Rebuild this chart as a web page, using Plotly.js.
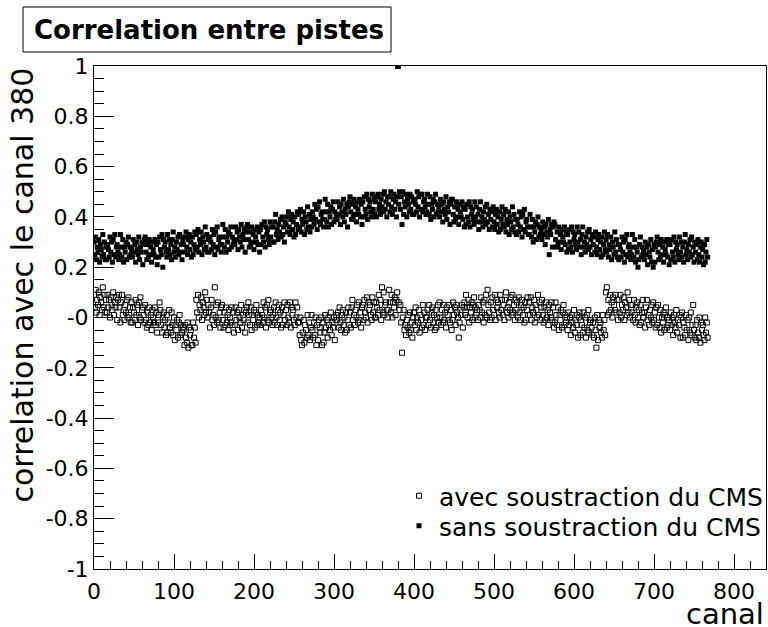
<!DOCTYPE html>
<html>
<head>
<meta charset="utf-8">
<script src="https://cdn.plot.ly/plotly-3.0.1.min.js"></script>
<style>
html,body{margin:0;padding:0;background:#fff;}
#chart{width:768px;height:627px;}
</style>
</head>
<body>
<div id="chart"></div>
<script>
// ---- data ----
const titleText = "Correlation entre pistes";
const xTitle = "canal";
const yTitle = "correlation avec le canal 380";
const nameAvec = "avec soustraction du CMS";
const nameSans = "sans soustraction du CMS";

// channel index 0..767 (6 blocks of 128)
const nCanaux = 768;
const canal = Array.from({length: nCanaux}, (_, i) => i);

const yTickVals = [-1, -0.8, -0.6, -0.4, -0.2, 0, 0.2, 0.4, 0.6, 0.8, 1];
const yTickText = ["-1", "-0.8", "-0.6", "-0.4", "-0.2", "-0", "0.2", "0.4", "0.6", "0.8", "1"];

// correlation without common-mode subtraction (filled squares)
const sansCMS = [
.30,.25,.32,.23,.28,.26,.31,.22,.29,.27,.24,.33,.25,.30,.23,.28,
.23,.29,.27,.24,.32,.26,.30,.22,.31,.25,.33,.24,.28,.29,.26,.23,
.25,.33,.28,.24,.31,.22,.28,.26,.30,.23,.29,.32,.24,.28,.25,.27,
.24,.31,.26,.29,.22,.30,.27,.25,.32,.23,.28,.26,.30,.21,.29,.31,
.32,.26,.23,.29,.24,.31,.25,.28,.22,.30,.27,.25,.31,.24,.29,.21,
.30,.24,.32,.27,.25,.33,.20,.31,.28,.30,.26,.24,.33,.27,.31,.25,
.29,.23,.31,.34,.26,.28,.24,.30,.27,.32,.25,.33,.26,.29,.23,.31,
.29,.32,.26,.34,.28,.25,.31,.33,.27,.30,.24,.32,.25,.29,.34,.27,
.33,.28,.35,.26,.31,.29,.34,.25,.32,.30,.27,.36,.28,.33,.26,.31,
.26,.32,.30,.27,.35,.29,.33,.25,.34,.28,.36,.27,.31,.32,.29,.26,
.29,.37,.32,.28,.35,.26,.32,.30,.34,.27,.33,.36,.28,.32,.29,.31,
.29,.36,.31,.34,.27,.35,.32,.30,.37,.28,.33,.31,.35,.26,.34,.36,
.37,.31,.28,.34,.29,.36,.30,.33,.27,.35,.32,.30,.36,.29,.34,.26,
.35,.29,.37,.32,.30,.38,.28,.36,.33,.35,.31,.29,.38,.32,.36,.30,
.36,.30,.38,.41,.33,.35,.31,.37,.34,.39,.32,.40,.33,.36,.30,.38,
.37,.40,.34,.42,.36,.33,.39,.41,.35,.38,.32,.40,.33,.37,.42,.35,
.41,.36,.43,.34,.39,.37,.42,.33,.40,.38,.35,.44,.36,.41,.34,.39,
.36,.42,.40,.37,.45,.39,.43,.35,.44,.38,.46,.37,.41,.42,.39,.36,
.39,.47,.42,.38,.45,.36,.42,.40,.44,.37,.43,.46,.38,.42,.39,.41,
.39,.46,.41,.44,.37,.45,.42,.40,.47,.38,.43,.41,.45,.36,.44,.46,
.48,.42,.39,.45,.40,.47,.41,.44,.38,.46,.43,.41,.47,.40,.45,.37,
.46,.40,.48,.43,.41,.49,.39,.47,.44,.46,.42,.40,.49,.43,.47,.41,
.46,.40,.48,.49,.43,.45,.41,.47,.44,.49,.42,.50,.43,.46,.40,.48,
.45,.48,.42,.50,.44,.41,.47,.49,.43,.46,.40,.48,1.0,.45,.50,.43,
.48,.37,.50,.41,.46,.44,.49,.40,.47,.45,.42,.49,.43,.48,.41,.46,
.41,.47,.45,.42,.50,.44,.48,.40,.49,.43,.49,.42,.46,.47,.44,.41,
.42,.49,.45,.41,.48,.39,.45,.43,.47,.40,.46,.49,.41,.45,.42,.44,
.40,.47,.42,.45,.38,.46,.43,.41,.48,.39,.44,.42,.46,.37,.45,.47,
.47,.41,.38,.44,.39,.46,.40,.43,.37,.45,.42,.40,.46,.39,.44,.36,
.43,.37,.45,.40,.38,.46,.36,.44,.41,.43,.39,.37,.46,.40,.44,.38,
.41,.35,.43,.46,.38,.40,.36,.42,.39,.44,.37,.45,.38,.41,.35,.43,
.39,.42,.36,.44,.38,.35,.41,.43,.37,.40,.34,.42,.35,.39,.44,.37,
.41,.36,.43,.34,.39,.37,.42,.33,.40,.38,.35,.44,.36,.41,.34,.39,
.33,.39,.37,.34,.42,.36,.40,.32,.41,.35,.43,.34,.38,.39,.36,.33,
.33,.41,.36,.32,.39,.30,.36,.34,.38,.31,.37,.40,.32,.36,.33,.35,
.31,.38,.33,.36,.29,.37,.34,.32,.39,.25,.35,.33,.37,.28,.36,.38,
.37,.31,.28,.34,.29,.36,.30,.33,.27,.35,.32,.30,.36,.29,.34,.26,
.33,.27,.35,.30,.28,.36,.26,.34,.31,.33,.29,.27,.36,.30,.34,.28,
.31,.25,.33,.36,.28,.30,.26,.32,.29,.34,.27,.35,.28,.31,.25,.33,
.29,.32,.26,.34,.28,.25,.31,.33,.27,.30,.24,.32,.25,.29,.34,.27,
.31,.26,.33,.24,.29,.27,.32,.23,.30,.28,.25,.34,.26,.31,.24,.29,
.23,.29,.27,.24,.32,.26,.30,.22,.31,.25,.33,.24,.28,.29,.26,.23,
.25,.33,.28,.24,.31,.22,.28,.26,.20,.23,.29,.32,.24,.28,.25,.27,
.23,.30,.25,.28,.21,.29,.26,.24,.31,.22,.27,.20,.29,.22,.28,.30,
.32,.26,.23,.29,.24,.31,.25,.28,.22,.30,.27,.25,.31,.24,.29,.21,
.29,.23,.31,.26,.24,.32,.22,.30,.27,.29,.25,.23,.32,.26,.30,.24,
.28,.22,.30,.33,.25,.27,.23,.29,.26,.31,.24,.32,.25,.28,.22,.30,
.26,.29,.23,.31,.25,.22,.28,.30,.24,.27,.21,.29,.22,.26,.31,.24
];

// correlation with common-mode subtraction (open squares)
const avecCMS = [
.09,.04,.11,.02,.07,.05,.10,.01,.08,.06,.03,.12,.04,.09,.02,.07,
.02,.09,.04,.07,0,.08,.05,.03,.10,.01,.06,.04,.08,-.01,.07,.09,
.04,-.02,.06,.09,.01,.03,-.01,.05,.02,.07,0,.08,.01,.04,-.02,.06,
-.02,.04,.02,-.01,.07,.01,.05,-.03,.06,0,.08,-.01,.03,.04,.01,-.02,
.05,-.01,-.04,.02,-.03,.04,-.02,.01,-.05,.03,0,-.02,.04,-.03,.02,-.06,
-.02,.01,.06,.03,-.03,-.06,0,.02,-.04,-.01,-.07,.01,-.06,-.02,.03,-.04,
-.06,.02,-.03,-.07,0,-.09,-.03,-.05,-.01,-.08,-.02,.01,-.07,-.03,-.06,-.04,
-.05,-.11,-.03,-.08,-.10,-.02,-.12,-.04,-.07,-.05,-.11,-.11,-.02,-.08,-.04,-.10,
.07,.02,.09,0,.05,.03,.08,-.01,.06,.04,.01,.10,.02,.07,0,.05,
.02,-.04,.04,.07,-.01,.01,-.03,.12,0,.05,-.02,.06,-.01,.02,-.04,.04,
.05,-.01,-.04,.02,-.03,.04,-.02,.01,-.05,.03,0,-.02,.04,-.03,.02,-.06,
-.03,.04,-.01,.02,-.05,.03,0,-.02,.05,-.04,.01,-.01,.03,-.06,.02,.04,
-.02,.06,.01,-.03,.04,-.05,.01,-.01,.03,-.04,.02,.05,-.03,.01,-.02,0,
-.03,.03,.01,-.02,.06,0,.04,-.04,.05,-.01,.07,-.02,.02,.03,0,-.03,
.01,.04,-.02,.06,0,-.03,.03,.05,-.01,.02,-.04,.04,-.03,.01,.06,-.01,
.03,-.03,.05,0,-.02,.06,-.04,.04,.01,.03,-.01,-.03,.06,0,.04,-.02,
-.02,-.07,0,-.09,-.11,-.06,-.01,-.10,-.03,-.05,-.08,.01,-.07,-.02,-.09,-.04,
.01,-.05,-.08,-.02,-.07,0,-.11,-.03,-.09,-.01,-.04,-.06,0,-.11,-.02,-.10,
-.06,.01,-.04,-.01,-.08,0,-.03,-.05,.02,-.07,-.02,-.04,0,-.09,-.01,.01,
-.01,.02,-.04,.04,-.02,-.05,.01,.03,-.03,0,-.06,.02,-.05,-.01,.04,-.03,
.02,-.04,.04,.07,-.01,.01,-.03,.03,0,.05,-.02,.06,-.01,.02,-.04,.04,
.05,-.01,.07,.02,0,.08,-.02,.06,.03,.05,.01,-.01,.08,.02,.06,0,
0,.06,.04,.01,.09,.03,.07,-.01,.12,.02,.10,.01,.05,.06,.03,0,
.03,.11,.06,.02,.09,0,.06,.04,.08,.01,.07,.10,1.0,.06,.03,.05,
-.02,-.14,0,.03,-.05,-.03,-.07,-.01,-.04,.01,-.06,.02,-.05,-.02,-.08,0,
.02,-.03,.04,-.05,0,-.02,.03,-.06,.01,-.01,-.04,.05,-.03,.02,-.05,0,
0,.03,-.03,.05,-.01,-.04,.02,.04,-.02,.01,-.05,.03,-.04,0,.05,-.02,
.06,0,-.03,.03,-.02,.05,-.01,.02,-.04,.04,.01,-.01,.05,-.02,.03,-.05,
-.01,.06,.01,.04,-.03,.05,.02,0,-.08,-.02,.03,.01,.05,-.04,.04,.06,
.01,.09,.04,0,.07,-.02,.04,.02,.06,-.01,.05,.08,0,.04,.01,.03,
-.01,.05,.03,0,.08,.02,.06,-.02,.07,.01,.09,0,.11,.05,.02,-.01,
.06,0,.08,.03,.01,.09,-.01,.07,.04,.06,.02,0,.09,.03,.07,.01,
.05,-.01,.07,.10,.02,.04,0,.06,.03,.08,.01,.09,.02,.05,-.01,.07,
.03,.06,0,.08,.02,-.01,.05,.07,.01,.04,-.02,.06,-.01,.03,.08,.01,
.06,.01,.08,-.01,.04,.02,.07,-.02,.05,.03,0,.09,.01,.06,-.01,.04,
.07,.01,-.02,.04,-.01,.06,0,.03,-.03,.05,.02,0,.06,-.01,.04,-.04,
-.02,.06,.01,-.03,.04,-.05,.01,-.01,.03,-.04,.02,.05,-.03,.01,-.02,0,
-.05,.02,-.03,0,-.07,.01,-.02,-.04,.03,-.06,-.01,-.03,.01,-.08,0,.02,
-.07,-.01,-.03,-.06,.02,-.04,0,-.08,.01,-.05,.03,-.06,-.02,-.01,-.04,-.07,
-.02,-.08,0,-.05,-.12,.01,-.09,-.01,-.04,-.02,-.06,-.08,.01,-.05,-.01,-.07,
.10,.12,.01,.07,.02,.09,.03,.06,0,.08,.05,.03,.09,.02,.07,-.01,
.07,.02,.09,0,.05,.03,.08,-.01,.06,.04,.01,.10,.02,.07,0,.05,
.02,.05,-.01,.07,.01,-.02,.04,.06,0,.03,-.03,.05,-.02,.02,.07,0,
.02,-.04,.04,.07,-.01,.01,-.03,.03,0,.05,-.02,.06,-.01,.02,-.04,.04,
-.03,.05,0,-.04,.03,-.06,0,-.02,.02,-.05,.01,.04,-.04,0,-.03,-.01,
-.05,.02,-.03,0,-.07,.01,-.02,-.04,.03,-.06,-.01,-.03,.01,-.08,0,.02,
-.08,-.02,-.04,-.07,.01,-.05,-.01,-.09,0,-.06,.02,-.07,-.03,.05,-.05,-.08,
-.03,-.09,-.01,-.06,-.08,0,-.10,-.02,-.05,-.03,-.07,-.09,0,-.06,-.02,-.08
];

// ---- plot ----
const FONT = "DejaVu Sans";
const L = 94, R = 2, T = 66, B = 58;
const W = 768, H = 627;
const pw = W - L - R, ph = H - T - B;
const px2x = p => (p - L) / pw;
const py2y = p => (H - B - p) / ph;

const traces = [
  {
    x: canal, y: avecCMS, name: nameAvec, type: "scatter", mode: "markers", legend: "legend",
    marker: {symbol: "square-open", size: 5, color: "#000", line: {width: 1, color: "#000"}},
    hoverinfo: "x+y"
  },
  {
    x: canal, y: sansCMS, name: nameSans, type: "scatter", mode: "markers", legend: "legend2",
    marker: {symbol: "square", size: 5, color: "#000", line: {width: 0}},
    hoverinfo: "x+y"
  }
];

const axisCommon = {
  showgrid: false, zeroline: false, showline: true, mirror: true, automargin: false,
  linecolor: "#000", linewidth: 1, ticks: "inside", tickcolor: "#000", tickwidth: 1,
  tickfont: {family: FONT, size: 22, color: "#000"}
};

const legendCommon = {
  xanchor: "left", yanchor: "top", bgcolor: "rgba(0,0,0,0)", borderwidth: 0,
  font: {family: FONT, size: 25, color: "#000"}, tracegroupgap: 0
};

const layout = {
  width: W, height: H,
  margin: {l: L, r: R, t: T, b: B, pad: 0, autoexpand: false},
  paper_bgcolor: "#fff", plot_bgcolor: "#fff",
  showlegend: true,
  title: {
    text: titleText, x: 209 / W, xanchor: "center", y: 1 - 30 / H, yanchor: "middle",
    font: {family: FONT, size: 26, weight: "bold", color: "#000"}
  },
  xaxis: Object.assign({}, axisCommon, {
    range: [0, 840], tickmode: "linear", tick0: 0, dtick: 100, ticklen: 15, ticklabelstandoff: 3,
    minor: {tickmode: "linear", tick0: 0, dtick: 20, ticklen: 8, ticks: "inside", tickcolor: "#000", showgrid: false}
  }),
  yaxis: Object.assign({}, axisCommon, {
    range: [-1, 1], tickmode: "array", tickvals: yTickVals, ticktext: yTickText, ticklen: 20,
    minor: {tickmode: "linear", tick0: -1, dtick: 0.05, ticklen: 10, ticks: "inside", tickcolor: "#000", showgrid: false}
  }),
  legend: Object.assign({}, legendCommon, {x: px2x(399), y: py2y(473)}),
  legend2: Object.assign({}, legendCommon, {x: px2x(399), y: py2y(503)}),
  shapes: [
    {type: "rect", xref: "paper", yref: "paper",
     x0: px2x(23), x1: px2x(391), y0: py2y(52), y1: py2y(7),
     line: {color: "#000", width: 1}, fillcolor: "rgba(0,0,0,0)"}
  ],
  annotations: [
    {text: yTitle, xref: "paper", yref: "paper", x: px2x(22), y: 1, xanchor: "center", yanchor: "top",
     textangle: -90, showarrow: false, font: {family: FONT, size: 30, color: "#000"}},
    {text: xTitle, xref: "paper", yref: "paper", x: px2x(684), y: py2y(614), xanchor: "left", yanchor: "middle",
     showarrow: false, font: {family: FONT, size: 29, color: "#000"}}
  ]
};

Plotly.newPlot("chart", traces, layout, {displayModeBar: false, staticPlot: true});
</script>
</body>
</html>
